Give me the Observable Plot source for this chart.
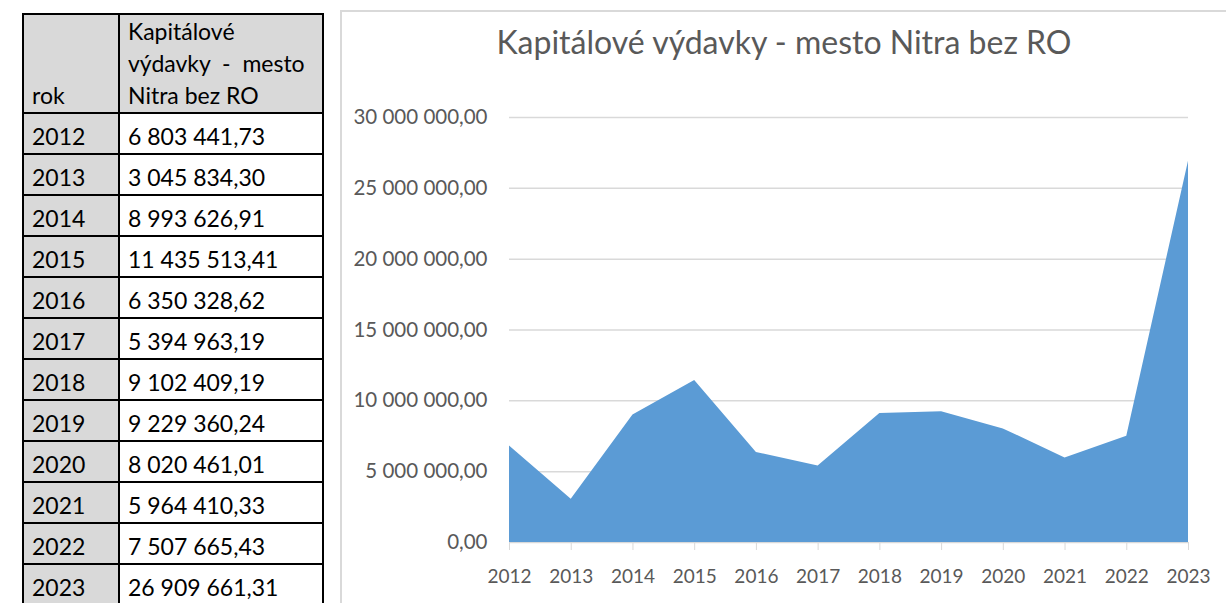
<!DOCTYPE html>
<html>
<head>
<meta charset="utf-8">
<script src="https://cdn.jsdelivr.net/npm/d3@7"></script>
<script src="https://cdn.jsdelivr.net/npm/@observablehq/plot@0.6"></script>
<style>
  html, body { margin: 0; padding: 0; background: #fff; }
  body { width: 1226px; height: 603px; overflow: hidden; position: relative; font-family: Lato, "Open Sans", sans-serif; }
  #tbl { position: absolute; left: 22px; top: 13px; border-collapse: collapse; font-size: 23px; color: #000; }
  #tbl td { border: 2px solid #000; padding: 0 0 1px 8px; height: 41px; box-sizing: border-box; vertical-align: bottom; line-height: 32px; }
  #tbl td.y { background: #d9d9d9; width: 96px; }
  #tbl td.v { width: 204px; }
  #tbl tr.h td { background: #d9d9d9; height: 98px; }
  #box { position: absolute; left: 340px; top: 10px; width: 890px; height: 640px; border: 2px solid #d9d9d9; box-sizing: border-box; }
  #title { position: absolute; left: 340px; width: 888px; top: 22px; text-align: center; font-size: 32px; color: #595959; }
  #chart { position: absolute; left: 341px; top: 90px; }
</style>
</head>
<body>
<table id="tbl"></table>
<div id="box"></div>
<div id="title">Kapitálové výdavky - mesto Nitra bez RO</div>
<div id="chart"></div>
<script>
const headerYear = "rok";
const headerValue = ["Kapitálové", "výdavky&nbsp; - &nbsp;mesto", "Nitra bez RO"];
const years = [2012, 2013, 2014, 2015, 2016, 2017, 2018, 2019, 2020, 2021, 2022, 2023];
const values = [6803441.73, 3045834.30, 8993626.91, 11435513.41, 6350328.62, 5394963.19,
                9102409.19, 9229360.24, 8020461.01, 5964410.33, 7507665.43, 26909661.31];
const yTicks = [0, 5000000, 10000000, 15000000, 20000000, 25000000, 30000000];

const loc = d3.formatLocale({decimal: ",", thousands: " ", grouping: [3], currency: ["", ""]});
const fmt = loc.format(",.2f");

// table
const tbl = document.getElementById("tbl");
let html = `<tr class="h"><td class="y">${headerYear}</td><td class="v">${headerValue.join("<br>")}</td></tr>`;
years.forEach((y, i) => {
  html += `<tr><td class="y">${y}</td><td class="v">${fmt(values[i])}</td></tr>`;
});
tbl.innerHTML = html;

const data = years.map((y, i) => ({year: y, value: values[i]}));

const plot = Plot.plot({
  width: 885,
  height: 513,
  marginLeft: 168,
  marginRight: 38,
  marginTop: 27,
  marginBottom: 61,
  style: {fontFamily: "Lato, 'Open Sans', sans-serif", fontSize: "19px", color: "#595959", background: "transparent"},
  x: {type: "linear", domain: [2012, 2023]},
  y: {domain: [0, 30000000]},
  marks: [
    Plot.ruleY(yTicks, {stroke: "#d9d9d9", strokeWidth: 1.5}),
    Plot.areaY(data, {x: "year", y: "value", fill: "#5b9bd5"}),
    Plot.axisY({ticks: yTicks, tickSize: 0, tickPadding: 22, tickFormat: fmt, label: null, fill: "#595959", fontSize: 20.5}),
    Plot.axisX({ticks: years, tickSize: 8, tickPadding: 19, tickFormat: d => String(d), label: null, stroke: "#d9d9d9", fill: "#595959"})
  ]
});
document.getElementById("chart").appendChild(plot);
</script>
</body>
</html>
